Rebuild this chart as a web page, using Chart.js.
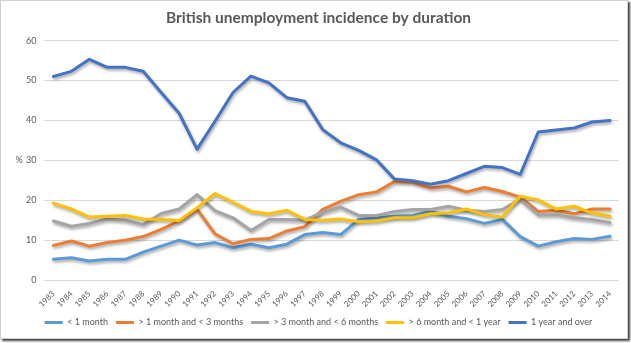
<!DOCTYPE html>
<html>
<head>
<meta charset="utf-8">
<script src="https://cdn.jsdelivr.net/npm/chart.js@4/dist/chart.umd.min.js"></script>
<style>
  html, body { margin: 0; padding: 0; background: #ffffff; }
  #wrap { position: absolute; left: 0; top: 0; width: 626px; height: 337px; border: 1px solid #d0d0d0; box-shadow: 2px 2px 2px rgba(0,0,0,0.75); background: #fff; }
  canvas { display: block; }
</style>
</head>
<body>
<div id="wrap"><canvas id="c" width="626" height="337"></canvas></div>
<script>
const years = ['1983','1984','1985','1986','1987','1988','1989','1990','1991','1992','1993','1994','1995','1996','1997','1998','1999','2000','2001','2002','2003','2004','2005','2006','2007','2008','2009','2010','2011','2012','2013','2014'];
const seriesNames = ['< 1 month', '> 1 month and < 3 months', '> 3 month and < 6 months', '> 6 month and < 1 year', '1 year and over'];
const lessThan1Month = [5.2,5.6,4.8,5.2,5.2,7.0,8.5,10.0,8.8,9.4,8.1,9.0,8.1,9.0,11.4,11.9,11.4,15.2,15.6,16.0,16.2,17.2,16.0,15.4,14.2,15.2,10.9,8.5,9.6,10.4,10.2,11.0];
const oneTo3Months = [8.7,9.8,8.5,9.4,10.0,10.9,12.7,14.8,17.7,11.6,9.1,10.2,10.4,12.3,13.4,17.7,19.7,21.4,22.1,24.7,24.5,23.1,23.5,22.1,23.2,22.2,20.8,17.2,17.5,16.6,17.8,17.8];
const threeTo6Months = [14.8,13.5,14.2,15.3,15.0,13.9,16.7,17.8,21.4,17.4,15.6,12.4,15.2,15.2,15.0,17.0,18.3,16.2,16.2,17.2,17.7,17.7,18.5,17.5,17.2,17.7,20.3,16.4,16.4,15.6,15.2,14.4];
const sixMonthsTo1Year = [19.3,17.8,15.8,16.0,16.2,15.3,15.2,14.9,18.1,21.7,19.5,17.2,16.6,17.5,15.2,15.0,15.3,14.6,14.8,15.6,15.6,16.6,16.8,17.8,16.4,15.8,21.0,20.1,17.8,18.5,16.8,16.0];
const oneYearAndOver = [51.0,52.3,55.3,53.3,53.3,52.3,47.0,41.8,32.8,39.8,47.0,51.1,49.4,45.7,44.8,37.7,34.4,32.5,30.1,25.3,24.9,24.0,24.9,26.7,28.5,28.2,26.5,37.1,37.6,38.1,39.6,40.0];
const colors = ['#5B9BD5', '#ED7D31', '#A5A5A5', '#FFC000', '#4472C4'];
const allSeries = [lessThan1Month, oneTo3Months, threeTo6Months, sixMonthsTo1Year, oneYearAndOver];

const FONT = 'Lato, "Open Sans", sans-serif';
const TXT = '#595959';

const pctPlugin = {
  id: 'pct',
  afterDraw(chart) {
    const y = chart.scales.y;
    const ctx = chart.ctx;
    ctx.save();
    ctx.fillStyle = TXT;
    ctx.font = '9px ' + FONT;
    ctx.textAlign = 'center';
    ctx.textBaseline = 'middle';
    ctx.fillText('%', 18, y.getPixelForValue(30));
    ctx.restore();
  }
};
const shadowPlugin = {
  id: 'lineShadow',
  beforeDatasetDraw(chart) {
    const ctx = chart.ctx;
    ctx.save();
    ctx.shadowColor = 'rgba(0,0,0,0.35)';
    ctx.shadowBlur = 3;
    ctx.shadowOffsetX = 1;
    ctx.shadowOffsetY = 2;
  },
  afterDatasetDraw(chart) {
    chart.ctx.restore();
  }
};

new Chart(document.getElementById('c'), {
  type: 'line',
  data: {
    labels: years,
    datasets: allSeries.map((d, i) => ({
      label: seriesNames[i],
      data: d,
      borderColor: colors[i],
      backgroundColor: colors[i],
      borderWidth: 3,
      pointRadius: 0,
      tension: 0,
      borderJoinStyle: 'round',
      borderCapStyle: 'round',
      order: 4 - i
    }))
  },
  options: {
    responsive: false,
    animation: false,
    layout: { padding: { left: 17, right: 8, top: 4, bottom: 1 } },
    plugins: {
      title: {
        display: true,
        text: 'British unemployment incidence by duration',
        color: TXT,
        font: { family: FONT, size: 15.5, weight: 'bold' },
        padding: { top: 4, bottom: 13 }
      },
      legend: {
        position: 'bottom',
        labels: {
          color: TXT,
          font: { family: FONT, size: 9 },
          boxWidth: 18,
          boxHeight: 3,
          padding: 8,
          sort: (a, b) => a.datasetIndex - b.datasetIndex,
          generateLabels(chart) {
            const items = Chart.defaults.plugins.legend.labels.generateLabels(chart);
            items.forEach(it => { it.lineWidth = 0; it.fillStyle = it.strokeStyle; });
            return items;
          }
        }
      },
      tooltip: { enabled: false }
    },
    scales: {
      x: {
        offset: true,
        grid: { display: false },
        border: { display: false },
        ticks: { color: TXT, font: { family: FONT, size: 8 }, maxRotation: 45, minRotation: 45, autoSkip: false, padding: 1 }
      },
      y: {
        min: 0, max: 60,
        grid: { color: '#d9d9d9', drawTicks: false },
        border: { display: false },
        ticks: { stepSize: 10, color: TXT, font: { family: FONT, size: 9 }, padding: 8 }
      }
    }
  },
  plugins: [pctPlugin, shadowPlugin]
});
</script>
</body>
</html>
